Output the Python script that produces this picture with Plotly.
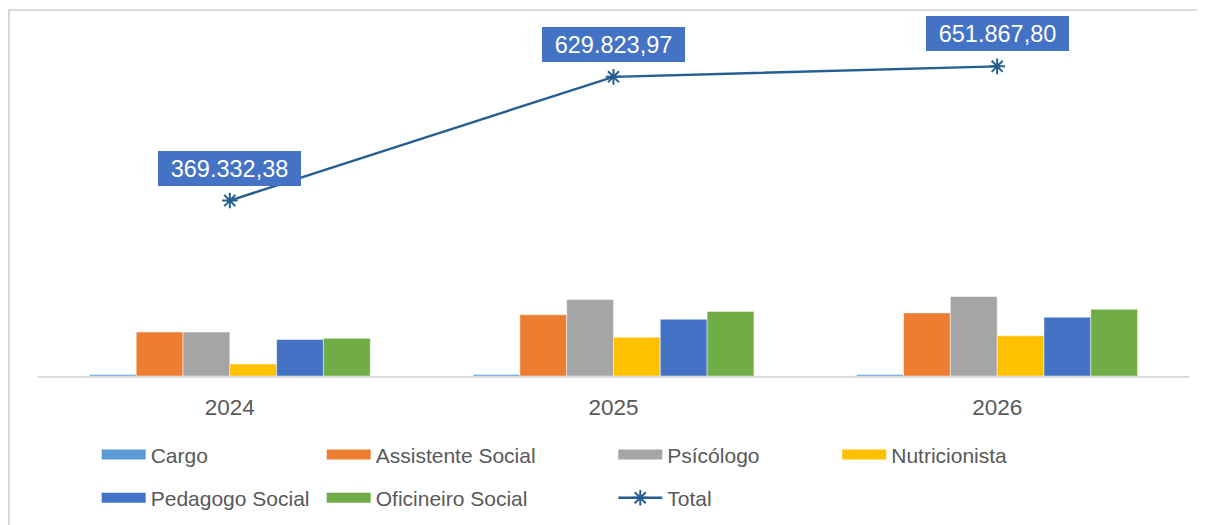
import plotly.graph_objects as go

# ---- data ----
years = ["2024", "2025", "2026"]
cargo = [3000, 3000, 3000]
assistente_social = [92500, 129000, 132800]
psicologo = [92500, 160800, 167400]
nutricionista = [25200, 81500, 84500]
pedagogo_social = [76800, 119500, 123800]
oficineiro_social = [79300, 136000, 140400]
total = [369332.38, 629823.97, 651867.80]

series_names = ["Cargo", "Assistente Social", "Psícólogo", "Nutricionista",
                "Pedagogo Social", "Oficineiro Social"]
series_values = [cargo, assistente_social, psicologo, nutricionista,
                 pedagogo_social, oficineiro_social]
series_colors = ["#5B9BD5", "#ED7D31", "#A5A5A5", "#FFC000", "#4472C4", "#70AD47"]
legend_ids = ["legend", "legend2", "legend3", "legend4", "legend", "legend2"]
total_name = "Total"
total_color = "#255E91"


def br(v):
    s = f"{v:,.2f}"
    return s.replace(",", "X").replace(".", ",").replace("X", ".")


FONT = "Liberation Sans, Arial, sans-serif"
TXT = "#595959"

fig = go.Figure()

for name, vals, col in zip(series_names, series_values, series_colors):
    fig.add_trace(go.Bar(
        x=years, y=vals, name=name,
        marker=dict(color=col, line=dict(color="rgba(255,255,255,0.6)", width=0.8)),
        showlegend=False, hoverinfo="x+y+name"))

# legend-only swatches (wide rectangles like the reference)
for name, col, lg in zip(series_names, series_colors, legend_ids):
    fig.add_trace(go.Scatter(
        x=[years[0]], y=[None], mode="lines", name=name,
        line=dict(color=col, width=13), legend=lg, legendgroup=name,
        hoverinfo="skip"))

fig.add_trace(go.Scatter(
    x=years, y=total, mode="lines+markers", name=total_name,
    line=dict(color=total_color, width=2.4),
    marker=dict(symbol="asterisk-open", size=13, line=dict(color=total_color, width=2)),
    legend="legend3", legendgroup=total_name))

# data labels: category index on the category axis
for i, y in enumerate(total):
    fig.add_annotation(
        x=i, y=y, xref="x", yref="y", text=br(y), showarrow=False, yshift=32.5,
        bgcolor="#4472C4", font=dict(color="white", size=23.5, family=FONT),
        width=139, height=31, borderpad=2, borderwidth=0)

# outer chart frame
fig.add_shape(type="rect", xref="paper", yref="paper",
              x0=-0.0252, x1=1.2, y0=-0.6, y1=1.014,
              line=dict(color="#D9D9D9", width=2), fillcolor="rgba(0,0,0,0)", layer="below")

legend_common = dict(orientation="v", xanchor="left", yanchor="top", y=-0.1616,
                     traceorder="grouped", tracegroupgap=13, itemwidth=44,
                     font=dict(family=FONT, size=21, color=TXT),
                     bgcolor="rgba(0,0,0,0)", borderwidth=0)

fig.update_layout(
    width=1197, height=517,
    margin=dict(l=30, r=16, t=7, b=144),
    paper_bgcolor="white", plot_bgcolor="white",
    barmode="group", bargap=0.268, bargroupgap=0,
    font=dict(family=FONT, color=TXT),
    xaxis=dict(type="category", categoryorder="array", categoryarray=years,
               range=[-0.5, len(years) - 0.5],
               showline=True, linecolor="#D9D9D9", linewidth=2,
               showgrid=False, ticks="", ticklabelstandoff=10,
               tickfont=dict(family=FONT, size=22.5, color=TXT)),
    yaxis=dict(visible=False, range=[0, 760000], showgrid=False, zeroline=False),
    legend=dict(x=0.051, **legend_common),
    legend2=dict(x=0.2465, **legend_common),
    legend3=dict(x=0.4998, **legend_common),
    legend4=dict(x=0.6944, **legend_common),
    showlegend=True,
)

fig.write_html("out.html")
